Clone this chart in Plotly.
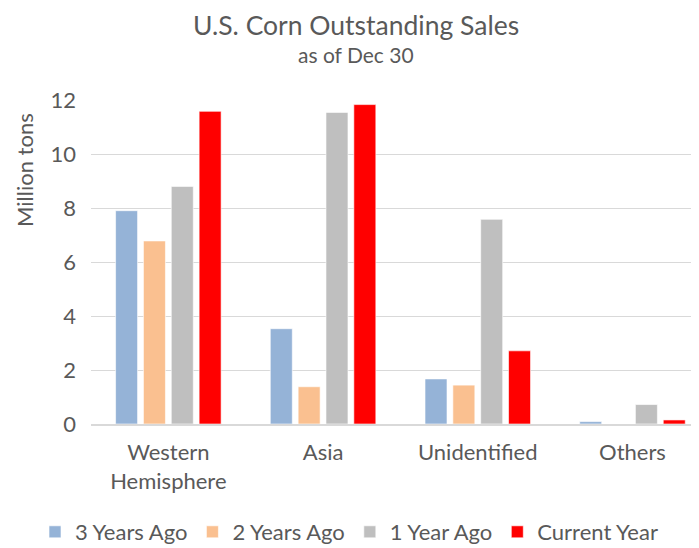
import plotly.graph_objects as go

categories = ["Western<br>Hemisphere", "Asia", "Unidentified", "Others"]
series_names = ["3 Years Ago", "2 Years Ago", "1 Year Ago", "Current Year"]
three_years_ago = [7.9, 3.53, 1.67, 0.09]
two_years_ago = [6.78, 1.38, 1.44, 0.0]
one_year_ago = [8.8, 11.54, 7.58, 0.72]
current_year = [11.58, 11.83, 2.71, 0.15]
colors = ["#95B3D7", "#FAC090", "#BFBFBF", "#FF0000"]
y_ticks = [0, 2, 4, 6, 8, 10, 12]

FONT = "Lato"
TXT = "#595959"
OFF = 8  # page body margin
W, H = 699 - OFF, 548 - OFF
L, R, T, B = 91 - OFF, 0, 100 - OFF, 548 - 424
PW, PH = W - L - R, H - T - B

def px_x(x):
    return (x - OFF - L) / PW

def px_y(y):
    return (H - B - (y - OFF)) / PH

fig = go.Figure()
for name, vals, col in zip(series_names,
                           [three_years_ago, two_years_ago, one_year_ago, current_year],
                           colors):
    fig.add_trace(go.Bar(x=categories, y=vals, name=name,
                         marker=dict(color=col, line=dict(color="rgba(255,255,255,0.6)", width=1))))

fig.update_layout(
    width=W, height=H,
    paper_bgcolor="white", plot_bgcolor="white",
    margin=dict(l=L, r=R, t=T, b=B, autoexpand=False),
    barmode="group", bargap=0.28, bargroupgap=0.21,
    font=dict(family=FONT, color=TXT, size=22),
    showlegend=True,
    legend=dict(orientation="h", x=px_x(35), xanchor="left", xref="paper",
                y=px_y(532), yanchor="middle", yref="paper",
                font=dict(size=22, color=TXT), itemwidth=30, traceorder="normal",
                tracegroupgap=0, borderwidth=0),
    xaxis=dict(type="category", range=[-0.5, 3.43], showgrid=False,
               showline=True, linecolor="#D9D9D9", linewidth=1.5,
               ticks="", ticklabelstandoff=8, tickfont=dict(size=22, color=TXT)),
    yaxis=dict(range=[0, 12], tickvals=y_ticks, showgrid=True, gridcolor="#D9D9D9",
               gridwidth=1.3, zeroline=False, showline=False, ticks="",
               ticklabelstandoff=14, tickfont=dict(size=22, color=TXT)),
    annotations=[
        dict(text="Million tons", textangle=-90, xref="paper", yref="paper",
             x=px_x(24), y=px_y(170), xanchor="center", yanchor="middle",
             showarrow=False, font=dict(size=22, color=TXT, family=FONT)),
        dict(text="U.S. Corn Outstanding Sales", xref="paper", yref="paper",
             x=px_x(356), y=px_y(OFF), xanchor="center", yanchor="top",
             showarrow=False, borderpad=0, font=dict(size=26.5, color=TXT, family=FONT)),
        dict(text="as of Dec 30", xref="paper", yref="paper",
             x=px_x(356), y=px_y(54), xanchor="center", yanchor="middle",
             showarrow=False, font=dict(size=21, color=TXT, family=FONT)),
    ],
)
fig.write_html("out.html")
